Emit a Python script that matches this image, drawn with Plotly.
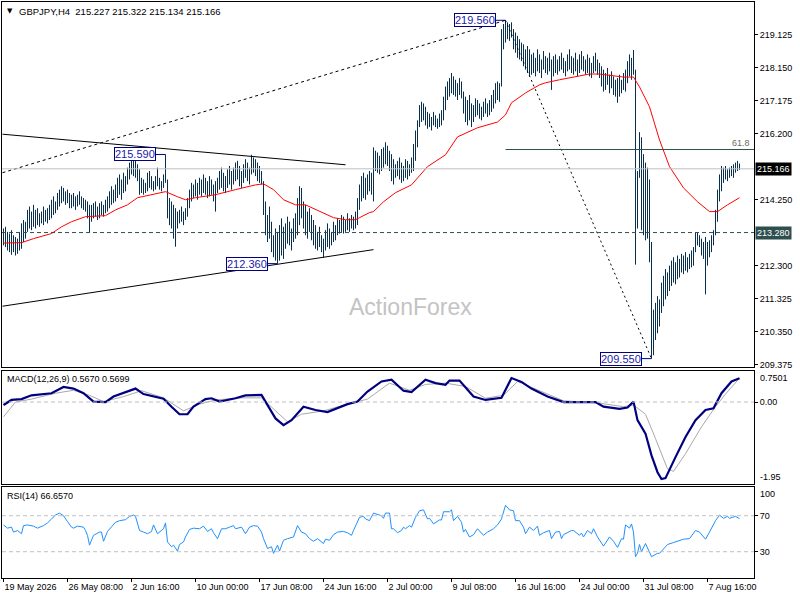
import plotly.graph_objects as go
from plotly.subplots import make_subplots

# ---------------- price bars (H4), one high / low per bar ----------------
bar_high = [
    213.40, 213.45, 213.30, 213.25, 213.35, 213.20, 213.15, 213.10, 213.30, 213.55,
    213.65, 213.60, 213.95, 214.05, 213.90, 214.10, 213.95, 214.00, 213.85, 213.90,
    214.05, 213.95, 214.00, 214.10, 214.25, 214.35, 214.20, 214.45, 214.55, 214.65,
    214.60, 214.50, 214.55, 214.45, 214.40, 214.45, 214.35, 214.40, 214.50, 214.35,
    214.30, 214.25, 214.20, 214.10, 214.10, 214.15, 214.20, 214.05, 214.15, 214.20,
    214.10, 214.25, 214.35, 214.50, 214.65, 214.55, 214.70, 214.90, 215.00, 214.85,
    215.05, 214.95, 215.20, 215.35, 215.50, 215.45, 215.40, 215.30, 215.15, 214.90,
    214.85, 214.75, 215.05, 215.10, 214.95, 214.80, 214.95, 215.20, 214.90, 214.80,
    215.00, 215.59, 214.85, 214.30, 214.20, 214.10, 214.00, 213.90, 213.95, 214.05,
    213.90, 214.00, 214.30, 214.55, 214.75, 214.70, 214.85, 214.75, 214.90, 214.85,
    215.00, 214.90, 214.80, 214.95, 214.85, 214.70, 214.80, 214.90, 215.10, 215.20,
    215.05, 214.95, 215.15, 215.25, 215.10, 215.20, 215.35, 215.40, 215.25, 215.10,
    215.30, 215.45, 215.35, 215.20, 215.58, 215.50, 215.45, 215.35, 215.25, 215.10,
    214.80, 214.20, 213.80, 214.05, 213.60, 213.20, 213.40, 213.30, 213.50, 213.70,
    213.45, 213.55, 213.75, 213.60, 213.40, 213.70, 213.85, 214.30, 214.65, 214.60,
    214.20, 214.10, 213.90, 214.00, 213.80, 213.65, 213.50, 213.30, 213.45, 213.20,
    213.10, 213.35, 213.55, 213.40, 213.30, 213.60, 213.50, 213.70, 213.65, 213.80,
    213.75, 213.65, 213.85, 213.70, 213.80, 213.75, 213.90, 214.30, 214.70, 214.95,
    215.05, 214.90, 215.00, 215.10, 215.05, 215.80, 215.70, 215.65, 215.55, 215.75,
    215.80, 215.95, 215.85, 215.70, 215.60, 215.45, 215.30, 215.40, 215.50, 215.35,
    215.25, 215.45, 215.40, 215.30, 215.50, 215.90, 216.30, 216.60, 217.05, 217.15,
    217.10, 217.00, 216.85, 216.80, 216.70, 216.85, 216.75, 216.65, 216.80, 216.90,
    217.30, 217.60, 217.75, 217.85, 218.00, 217.90, 217.80, 217.70, 217.85, 217.75,
    217.45, 217.30, 217.20, 217.35, 217.10, 217.05, 217.25, 217.20, 217.10, 217.00,
    217.15, 217.25, 217.10, 217.20, 217.35, 217.50, 217.70, 217.75, 217.70, 219.30,
    219.45, 219.56, 219.50, 219.45, 219.50, 219.30, 219.20, 219.10, 219.00, 218.90,
    218.85, 218.70, 218.80, 218.70, 218.55, 218.60, 218.45, 218.70, 218.55, 218.40,
    218.65, 218.50, 218.45, 218.60, 218.40, 218.50, 218.55, 218.40, 218.50, 218.60,
    218.45, 218.35, 218.55, 218.70, 218.50, 218.45, 218.60, 218.40, 218.55, 218.65,
    218.50, 218.40, 218.55, 218.45, 218.30, 218.50, 218.60, 218.40, 218.30, 218.20,
    218.10, 218.00, 218.15, 217.95, 218.05, 217.90, 217.80, 217.85, 217.95, 217.80,
    218.00, 218.10, 218.35, 218.55, 218.45, 218.68, 218.10, 215.10, 216.25, 216.10,
    215.60, 215.35, 215.20, 214.85, 213.00, 211.00, 211.20, 211.40, 211.30, 211.80,
    212.00, 212.20, 212.10, 212.30, 212.45, 212.55, 212.40, 212.60, 212.50, 212.65,
    212.60, 212.70, 212.55, 212.65, 212.75, 212.85, 213.28, 213.28, 213.20, 213.10,
    213.00, 213.15, 213.00, 213.05, 213.20, 213.35, 213.95, 214.55, 215.00, 215.25,
    215.20, 215.25, 215.15, 215.20, 215.25, 215.30, 215.35, 215.40, 215.322,
]
bar_low = [
    212.90, 212.85, 212.75, 212.70, 212.62, 212.70, 212.60, 212.65, 212.75, 212.80,
    213.00, 213.10, 213.30, 213.40, 213.35, 213.45, 213.40, 213.50, 213.45, 213.55,
    213.50, 213.60, 213.55, 213.65, 213.70, 213.80, 213.85, 213.95, 214.05, 214.15,
    214.20, 214.10, 214.15, 214.00, 214.00, 214.05, 213.95, 214.05, 214.10, 214.00,
    213.95, 213.90, 213.70, 213.28, 213.60, 213.70, 213.75, 213.65, 213.70, 213.80,
    213.75, 213.85, 213.90, 214.00, 214.10, 214.15, 214.20, 214.30, 214.40, 214.25,
    214.45, 214.50, 214.70, 214.85, 215.00, 214.95, 214.90, 214.80, 214.40, 214.45,
    214.40, 214.45, 214.50, 214.60, 214.55, 214.50, 214.55, 214.65, 214.55, 214.50,
    214.60, 214.75, 213.70, 213.50, 213.40, 213.10, 212.86, 213.40, 213.55, 213.60,
    213.50, 213.65, 213.75, 214.00, 214.20, 214.30, 214.35, 214.25, 214.40, 214.35,
    214.45, 214.40, 214.30, 214.35, 214.40, 214.20, 213.90, 214.45, 214.55, 214.60,
    214.50, 214.45, 214.60, 214.70, 214.55, 214.70, 214.80, 214.85, 214.65, 214.60,
    214.75, 214.90, 214.80, 214.70, 215.00, 215.05, 214.95, 214.80, 214.75, 214.70,
    213.80, 213.20, 213.00, 213.10, 212.70, 212.55, 212.45, 212.36, 212.45, 212.60,
    212.50, 212.80, 212.95, 212.90, 212.75, 213.00, 213.10, 213.20, 213.50, 213.70,
    213.40, 213.20, 213.10, 213.30, 213.05, 212.90, 212.80, 212.75, 212.85, 212.70,
    212.54, 212.75, 212.85, 212.80, 212.90, 213.00, 213.05, 213.20, 213.25, 213.30,
    213.25, 213.30, 213.35, 213.30, 213.40, 213.35, 213.40, 213.50, 213.95, 214.20,
    214.30, 214.25, 214.40, 214.50, 214.40, 214.20, 215.10, 215.05, 215.00, 215.10,
    215.20, 215.30, 215.25, 215.10, 214.80, 214.70, 214.90, 214.95, 214.85, 214.75,
    214.80, 214.90, 214.85, 214.95, 215.05, 215.10, 215.40, 215.80, 216.40, 216.55,
    216.60, 216.45, 216.35, 216.40, 216.30, 216.45, 216.40, 216.35, 216.40, 216.45,
    216.60, 216.90, 217.20, 217.30, 217.40, 217.35, 217.30, 217.20, 217.35, 217.25,
    216.80, 216.55, 216.45, 216.60, 216.40, 216.55, 216.70, 216.75, 216.65, 216.60,
    216.70, 216.80, 216.70, 216.75, 216.85, 216.95, 217.10, 217.20, 217.15, 217.60,
    218.70, 218.90, 219.00, 218.95, 219.05, 218.70, 218.60, 218.45, 218.40, 218.35,
    218.20, 218.10, 218.00, 217.90, 217.95, 218.00, 217.90, 218.05, 218.00, 217.85,
    218.10, 218.00, 217.95, 218.05, 217.50, 217.90, 218.00, 217.95, 218.05, 218.10,
    218.00, 217.90, 218.05, 218.10, 218.00, 217.95, 218.05, 217.90, 218.00, 218.10,
    218.05, 217.95, 218.00, 217.90, 217.85, 218.00, 218.05, 217.95, 217.85, 217.60,
    217.45, 217.50, 217.65, 217.40, 217.55, 217.35, 217.30, 217.12, 217.30, 217.40,
    217.50, 217.45, 217.70, 217.90, 217.80, 217.95, 212.33, 213.40, 214.90, 213.35,
    213.20, 213.05, 213.10, 212.40, 209.55, 209.65, 210.10, 210.30, 210.50, 210.90,
    211.10, 211.30, 211.40, 211.55, 211.70, 211.80, 211.75, 211.90, 211.95, 212.10,
    212.05, 212.15, 212.10, 212.20, 212.25, 212.30, 212.70, 212.90, 212.85, 212.60,
    212.50, 211.45, 212.30, 212.55, 212.70, 212.90, 213.20, 213.60, 214.20, 214.50,
    214.75, 214.85, 214.80, 214.90, 214.95, 214.90, 215.05, 215.10, 215.134,
]

# ---------------- moving average (red), read at bar indices ----------------
ma_idx = [0, 9, 15, 24, 29, 34, 41, 51, 56, 62, 67, 74, 81, 87, 91, 96, 106, 116, 126, 130,
          135, 140, 146, 151, 158, 165, 171, 176, 178, 183, 185, 190, 196, 204, 212, 221, 227,
          237, 247, 251, 254, 261, 268, 271, 278, 293, 298, 310, 315, 318, 323, 328, 333, 340,
          347, 353, 357, 362, 368]
ma_val = [212.97, 212.98, 213.10, 213.25, 213.45, 213.60, 213.75, 213.78, 213.95, 214.10,
          214.31, 214.40, 214.49, 214.34, 214.25, 214.31, 214.40, 214.55, 214.69, 214.72,
          214.55, 214.25, 214.10, 214.10, 213.90, 213.72, 213.66, 213.66, 213.72, 213.87,
          213.90, 214.19, 214.46, 214.69, 215.23, 215.58, 216.11, 216.38, 216.55, 216.76,
          217.12, 217.41, 217.65, 217.71, 217.80, 217.97, 217.97, 217.88, 217.88, 217.59,
          217.00, 216.02, 215.23, 214.60, 214.19, 213.90, 213.90, 214.10, 214.31]

# ---------------- MACD(12,26,9) ----------------
macd_idx = [0, 4, 9, 14, 24, 30, 35, 40, 45, 51, 55, 60, 66, 70, 80, 84, 88, 92, 95, 101,
            104, 108, 116, 121, 126, 129, 133, 136, 140, 144, 150, 156, 162, 167, 172, 177,
            182, 189, 194, 200, 204, 211, 216, 221, 223, 228, 235, 241, 249, 254, 259, 264,
            272, 280, 290, 296, 300, 308, 312, 315, 317, 321, 324, 327, 329, 331, 336, 341,
            346, 351, 355, 359, 364, 368]
macd_val = [-0.07, 0.05, 0.07, 0.16, 0.21, 0.36, 0.32, 0.21, 0.01, 0.00, 0.13, 0.21, 0.32,
            0.19, 0.08, -0.11, -0.29, -0.29, -0.11, 0.07, 0.09, 0.01, 0.09, 0.16, 0.16, 0.17,
            -0.15, -0.39, -0.55, -0.43, -0.11, -0.19, -0.24, -0.15, -0.05, 0.01, 0.25, 0.49,
            0.53, 0.27, 0.24, 0.53, 0.45, 0.41, 0.51, 0.51, 0.13, 0.05, 0.10, 0.57, 0.48, 0.32,
            0.13, 0.00, 0.00, 0.00, -0.11, -0.16, -0.13, 0.01, -0.43, -0.75, -1.27, -1.67,
            -1.83, -1.81, -1.31, -0.83, -0.43, -0.19, -0.15, 0.21, 0.49, 0.567]
sig_idx = [0, 6, 14, 26, 35, 43, 50, 60, 69, 80, 90, 98, 106, 119, 129, 136, 142, 149, 160,
           172, 182, 193, 203, 211, 221, 231, 241, 250, 257, 267, 280, 297, 310, 315, 321, 326,
           332, 335, 341, 349, 356, 361, 368]
sig_val = [-0.35, 0.00, 0.07, 0.21, 0.28, 0.16, 0.01, 0.13, 0.27, 0.10, -0.21, -0.05, 0.05,
           0.10, 0.10, -0.21, -0.47, -0.29, -0.21, -0.05, 0.07, 0.45, 0.28, 0.42, 0.45, 0.37,
           0.09, 0.16, 0.49, 0.29, 0.03, -0.02, -0.11, -0.07, -0.29, -0.87, -1.59, -1.65,
           -1.23, -0.59, -0.11, 0.19, 0.57]

# ---------------- RSI(14) ----------------
rsi_idx = [0, 2, 4, 5, 7, 9, 10, 12, 15, 17, 20, 22, 24, 26, 28, 30, 32, 34, 35, 37, 40, 41,
           42, 43, 45, 48, 49, 50, 52, 54, 56, 58, 61, 63, 65, 66, 68, 70, 72, 74, 75, 77, 80,
           81, 82, 84, 85, 87, 88, 90, 91, 93, 95, 98, 100, 102, 104, 105, 107, 109, 111, 113,
           115, 116, 119, 121, 123, 125, 127, 129, 130, 132, 134, 135, 137, 138, 140, 142, 145,
           147, 149, 151, 153, 155, 157, 160, 161, 163, 165, 167, 170, 172, 174, 175, 178, 180,
           181, 183, 185, 188, 189, 190, 191, 193, 194, 195, 197, 199, 200, 201, 203, 204, 206,
           208, 210, 212, 213, 215, 216, 218, 219, 220, 223, 224, 225, 227, 229, 230, 231, 233,
           235, 237, 240, 242, 245, 247, 249, 251, 253, 255, 256, 258, 260, 261, 263, 265, 267,
           268, 270, 273, 274, 276, 278, 279, 280, 284, 285, 288, 289, 290, 292, 294, 295, 297,
           300, 302, 303, 305, 307, 309, 310, 311, 313, 314, 315, 316, 317, 318, 319, 321, 322,
           324, 327, 328, 331, 332, 335, 337, 340, 343, 346, 348, 351, 353, 356, 358, 360, 362,
           363, 366, 368]
rsi_val = [59.8, 56.2, 57.3, 51.8, 53.6, 50.0, 59.0, 59.8, 58.4, 56.2, 59.0, 62.0, 66.4, 70.7,
           72.9, 70.0, 63.5, 57.3, 56.2, 58.4, 57.3, 53.6, 48.2, 37.3, 48.2, 51.8, 51.8, 41.6,
           52.5, 57.3, 62.7, 64.5, 65.6, 69.3, 70.7, 69.3, 53.6, 51.8, 50.0, 52.5, 59.8, 50.0,
           55.5, 62.0, 40.9, 35.5, 37.3, 30.7, 38.0, 40.9, 46.4, 54.7, 56.2, 55.5, 58.4, 52.5,
           55.5, 51.1, 44.5, 55.5, 55.5, 57.3, 59.0, 55.5, 57.3, 50.0, 57.3, 59.0, 58.4, 51.8,
           44.5, 33.6, 35.5, 28.2, 37.3, 30.7, 42.7, 44.5, 46.4, 59.0, 51.8, 50.0, 44.5, 41.6,
           44.5, 39.1, 43.9, 42.7, 48.9, 51.8, 52.5, 51.1, 48.2, 53.6, 68.2, 69.3, 66.4, 64.5,
           72.9, 70.7, 70.0, 67.1, 72.9, 72.9, 55.5, 55.5, 51.1, 53.6, 57.3, 55.5, 59.0, 57.3,
           68.2, 75.5, 76.5, 66.4, 67.1, 60.9, 62.7, 65.3, 65.3, 74.4, 74.4, 76.5, 64.5, 69.3,
           62.7, 51.8, 54.7, 46.4, 48.9, 55.5, 48.2, 51.8, 55.5, 59.8, 66.4, 81.6, 76.5, 75.5,
           64.5, 64.5, 57.3, 50.0, 57.3, 53.6, 58.4, 48.2, 51.1, 53.6, 44.5, 51.8, 52.5, 44.5,
           48.9, 53.6, 53.6, 48.2, 50.7, 46.4, 53.6, 50.0, 55.5, 46.4, 36.2, 42.7, 46.4, 41.6,
           34.7, 44.5, 43.9, 59.8, 56.2, 60.9, 51.8, 24.5, 28.2, 38.0, 30.0, 39.1, 33.6, 24.5,
           28.2, 28.2, 35.5, 38.0, 40.2, 41.6, 43.9, 44.5, 53.6, 51.8, 43.9, 51.8, 64.5, 70.7,
           67.1, 69.3, 67.1, 69.3, 66.66]

# ---------------- axis labels / drawn objects ----------------
time_idx = [0, 32, 64, 96, 128, 160, 192, 224, 256, 288, 320, 352]
time_labels = ["19 May 2026", "26 May 08:00", "2 Jun 16:00", "10 Jun 00:00", "17 Jun 08:00",
               "24 Jun 16:00", "2 Jul 00:00", "9 Jul 08:00", "16 Jul 16:00", "24 Jul 00:00",
               "31 Jul 08:00", "7 Aug 16:00"]
price_ticks = [219.125, 218.150, 217.175, 216.200, 214.250, 212.300, 211.325, 210.350, 209.375]

last_ohlc = [215.227, 215.322, 215.134, 215.166]
support_level = 213.28
swing_points = [(81, 215.59), (137, 212.36), (251, 219.56), (324, 209.55)]
# hand drawn trend lines: (bar, price) -> (bar, price)
upper_wedge = [(-0.5, 216.19), (171, 215.285)]
lower_wedge = [(-0.5, 211.10), (185, 212.775)]
channel_line = [(-0.5, 215.05), (251, 219.56)]
swing_line = [(251, 219.56), (324, 209.55)]

fib_low, fib_high = 209.55, 219.56
fib_618 = fib_low + 0.618 * (fib_high - fib_low)

X_MIN, X_MAX = -0.75, 375.25
FONT = "Liberation Sans, Arial, sans-serif"
FS = 9
BAR_COLOR = "#08304e"

fig = make_subplots(rows=3, cols=1, shared_xaxes=True, vertical_spacing=0.01)

bx, by = [], []
for i, (h, l) in enumerate(zip(bar_high, bar_low)):
    bx += [i, i, None]
    by += [l, h, None]
fig.add_trace(go.Scatter(x=bx, y=by, mode="lines", line=dict(color=BAR_COLOR, width=1),
                         hoverinfo="skip"), row=1, col=1)
fig.add_trace(go.Scatter(x=ma_idx, y=ma_val, mode="lines", line=dict(color="#ff0000", width=1)),
              row=1, col=1)

for seg, dash in [(upper_wedge, "solid"), (lower_wedge, "solid"),
                  (channel_line, "3px,3px"), (swing_line, "2px,3px")]:
    fig.add_trace(go.Scatter(x=[p[0] for p in seg], y=[p[1] for p in seg], mode="lines",
                             line=dict(color="black", width=1, dash=dash)), row=1, col=1)

fig.add_trace(go.Scatter(x=sig_idx, y=sig_val, mode="lines", line=dict(color="#a8a8a8", width=1)),
              row=2, col=1)
fig.add_trace(go.Scatter(x=macd_idx, y=macd_val, mode="lines", line=dict(color="#000080", width=2.2)),
              row=2, col=1)
fig.add_trace(go.Scatter(x=rsi_idx, y=rsi_val, mode="lines", line=dict(color="#1e90ff", width=1)),
              row=3, col=1)

# horizontal levels
fig.add_hline(y=last_ohlc[3], line=dict(color="#c0c0c0", width=1), row=1, col=1)
fig.add_hline(y=support_level, line=dict(color="#2f4f4f", width=1, dash="4px,3px"), row=1, col=1)
fig.add_shape(type="line", x0=swing_points[2][0], x1=X_MAX, y0=fib_618, y1=fib_618,
              line=dict(color="#2f4f4f", width=1), xref="x", yref="y")
fig.add_hline(y=0, line=dict(color="#c0c0c0", width=1, dash="4px,3px"), row=2, col=1)
fig.add_hline(y=70, line=dict(color="#c0c0c0", width=1, dash="4px,3px"), row=3, col=1)
fig.add_hline(y=30, line=dict(color="#c0c0c0", width=1, dash="4px,3px"), row=3, col=1)

ann = []
# swing price labels
for bx_i, price in swing_points:
    ann.append(dict(x=bx_i, y=price, xref="x", yref="y", text="%.3f" % price, showarrow=True,
                    ax=-31, ay=0, arrowhead=0, arrowwidth=1, arrowcolor="#000080",
                    bordercolor="#000080", borderwidth=1, borderpad=0, bgcolor="white",
                    font=dict(family=FONT, size=11, color="#1a1aa8")))
# header
ann.append(dict(x=0, y=1, xref="paper", yref="paper", xanchor="left", yanchor="top",
                xshift=3, yshift=-3, text="▼", showarrow=False,
                font=dict(family="DejaVu Sans", size=7, color="black")))
ann.append(dict(x=0, y=1, xref="paper", yref="paper", xanchor="left", yanchor="top",
                xshift=15, yshift=-2, showarrow=False,
                text="GBPJPY,H4  " + " ".join("%.3f" % v for v in last_ohlc),
                font=dict(family=FONT, size=FS + 0.5, color="black")))
ann.append(dict(x=0, y=0.7501, xref="paper", yref="y2", xanchor="left", yanchor="top",
                xshift=3, yshift=-1, showarrow=False, text="MACD(12,26,9) 0.5670 0.5699",
                font=dict(family=FONT, size=FS, color="black")))
ann.append(dict(x=0, y=101.5, xref="paper", yref="y3", xanchor="left", yanchor="top",
                xshift=3, yshift=-2, showarrow=False, text="RSI(14) 66.6570",
                font=dict(family=FONT, size=FS, color="black")))
# watermark
ann.append(dict(x=0.5426, y=211.08, xref="paper", yref="y", showarrow=False, text="ActionForex",
                font=dict(family=FONT, size=23, color="#c3c3c3")))
# fib label
ann.append(dict(x=1, y=fib_618, xref="paper", yref="y", xanchor="right", yanchor="bottom",
                xshift=-2, yshift=0, showarrow=False, text="61.8",
                font=dict(family=FONT, size=FS, color="#6a6a5a")))
# highlighted right-axis labels
for price, bg in [(last_ohlc[3], "black"), (support_level, "#2f4f4f")]:
    ann.append(dict(x=1, y=price, xref="paper", yref="y", xanchor="left", xshift=1,
                    showarrow=False, text="%.3f" % price, bgcolor=bg, borderpad=1,
                    font=dict(family=FONT, size=FS, color="white")))
# indicator scale edge labels
for txt, yv, yr, sh in [("0.7501", 0.7501, "y2", -7), ("-1.95", -1.95, "y2", 7),
                        ("100", 100, "y3", -5), ("0", 0, "y3", 5)]:
    ann.append(dict(x=1, y=yv, xref="paper", yref=yr, xanchor="left", xshift=4, yshift=sh,
                    showarrow=False, text=txt, font=dict(family=FONT, size=FS, color="black")))

axis_common = dict(showline=True, mirror=True, linecolor="black", linewidth=1,
                   showgrid=False, zeroline=False, automargin=False)
fig.update_xaxes(range=[X_MIN, X_MAX], showticklabels=False, ticks="", **axis_common)
fig.update_xaxes(row=3, col=1, showticklabels=True, tickvals=time_idx, ticktext=time_labels,
                 ticks="outside", ticklen=3, tickcolor="black", ticklabelposition="outside right",
                 tickangle=0, tickfont=dict(family=FONT, size=FS, color="black"))

fig.update_layout(
    width=800, height=600,
    margin=dict(l=2, r=46, t=2, b=22),
    paper_bgcolor="white", plot_bgcolor="white",
    showlegend=False,
    annotations=ann,
    yaxis=dict(domain=[0.3655, 1.0], range=[209.288, 220.101], side="right",
               tickvals=price_ticks, ticktext=["%.3f" % v for v in price_ticks],
               ticks="outside", ticklen=3, tickcolor="black",
               tickfont=dict(family=FONT, size=FS, color="black"), **axis_common),
    yaxis2=dict(domain=[0.1632, 0.3602], range=[-1.95, 0.7501], side="right",
                tickvals=[0], ticktext=["0.00"], ticks="outside", ticklen=3, tickcolor="black",
                tickfont=dict(family=FONT, size=FS, color="black"), **axis_common),
    yaxis3=dict(domain=[0.0, 0.158], range=[0.8, 101.9], side="right",
                tickvals=[70, 30], ticktext=["70", "30"], ticks="outside", ticklen=3,
                tickcolor="black", tickfont=dict(family=FONT, size=FS, color="black"),
                **axis_common),
)

# the page body has a default 8px margin; drop it so the 800x600 figure fills the window
fig.write_html("out.html", config={"displayModeBar": False},
               post_script="document.body.style.margin='0';")
